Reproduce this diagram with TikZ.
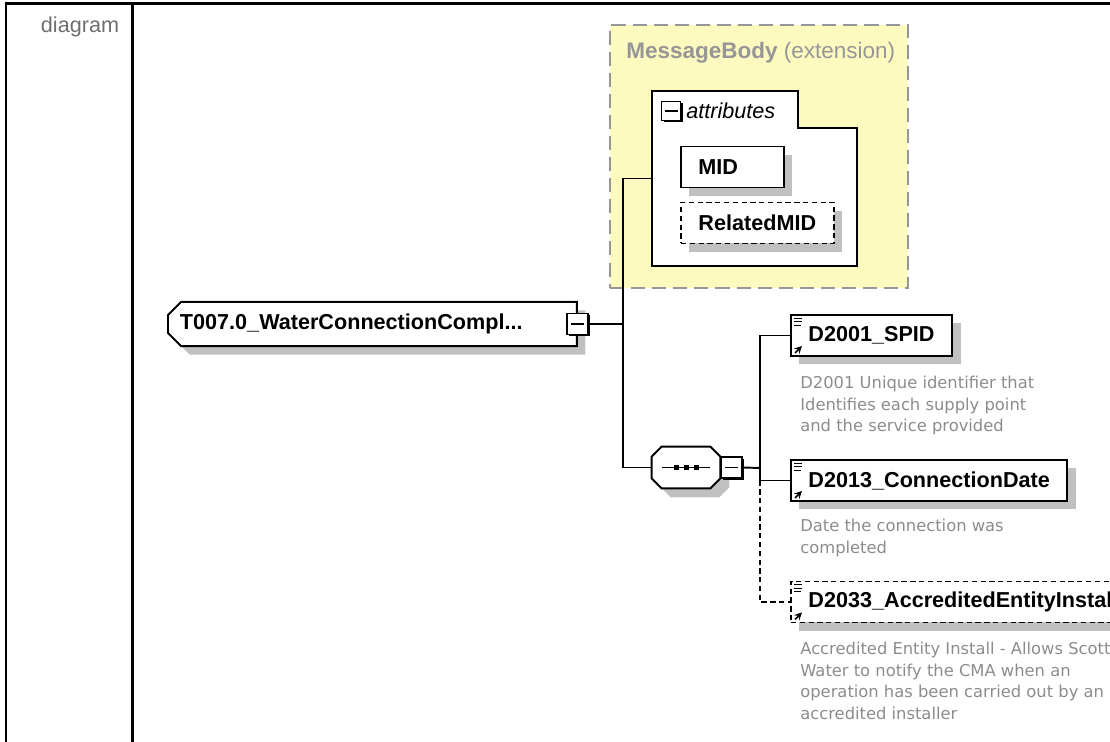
\documentclass[tikz,border=0pt]{standalone}
\usepackage{fontspec}
\setmainfont{Liberation Sans}
\newfontfamily\descfont{DejaVu Sans}
\usepackage{tikz}
\usetikzlibrary{shapes,shapes.misc,arrows,positioning,calc,shadows}
\definecolor{extfill}{RGB}{253,250,192}
\definecolor{extgray}{RGB}{150,150,150}
\definecolor{descgray}{RGB}{140,140,140}
\definecolor{shadegray}{RGB}{192,192,192}
\definecolor{lblgray}{RGB}{110,110,110}
\newcommand{\lblfont}{\fontsize{12.3}{14.6}\selectfont}
\newcommand{\descsize}{\fontsize{9.3}{12.2}\selectfont}
\tikzstyle{shade}   =[drop shadow={shadow xshift=0.17cm, shadow yshift=-0.17cm,
                        fill=shadegray, opacity=1}]
\tikzstyle{elem}    =[rectangle, draw=black, fill=white, line width=1.1pt,
                        minimum height=0.82cm, inner xsep=0.35cm, anchor=west,
                        font=\lblfont\bfseries, shade]
\tikzstyle{optional}=[dash pattern=on 3pt off 2pt]
\tikzstyle{rootelem}=[chamfered rectangle, chamfered rectangle corners={north west,south west},
                        chamfered rectangle xsep=0.14cm, draw=black, fill=white,
                        line width=1.1pt, minimum height=0.84cm, text width=7.7cm,
                        inner xsep=0.1cm, align=left, anchor=west,
                        font=\lblfont\bfseries, shade]
\tikzstyle{seqbox}  =[rectangle, inner sep=0pt, minimum width=1.36cm, minimum height=0.82cm]
\tikzstyle{toggle}  =[rectangle, draw=black, fill=white, line width=1.1pt,
                        minimum size=0.42cm, inner sep=0pt,
                        drop shadow={shadow xshift=0.04cm, shadow yshift=-0.04cm,
                          fill=black, opacity=1},
                        path picture={
                          \draw[black, line width=0.8pt] ([xshift=-0.13cm]path picture bounding box.center)
                            -- ([xshift=0.13cm]path picture bounding box.center);
                        }]
\tikzstyle{extgroup}=[rectangle, draw=extgray, fill=extfill, line width=1.1pt,
                        dash pattern=on 8pt off 4pt, minimum width=5.96cm,
                        minimum height=5.26cm, inner sep=0pt]
\tikzstyle{conn}    =[line width=1.1pt]
\tikzstyle{desc}    =[anchor=north west, inner sep=0pt, align=left,
                        font=\descfont\descsize, text=descgray]
% small marks at the left side of a referenced element
\newcommand{\elemicons}[1]{%
  \draw[line width=0.5pt] ($(#1.north west)+(4,4)$) -- ++(8,0)
                          ($(#1.north west)+(4,7.5)$) -- ++(8,0)
                          ($(#1.north west)+(4,11)$) -- ++(7,0);
  \draw[-stealth, line width=0.9pt] ($(#1.south west)+(5,-4)$) -- ++(7,-7);
}
% octagon round a compositor node, shifted by #2
\newcommand{\octpath}[2]{%
  ($(#1.north west)+(10+#2,#2)$) -- ($(#1.north east)+(-10+#2,#2)$)
  -- ($(#1.north east)+(#2,10+#2)$) -- ($(#1.south east)+(#2,-10+#2)$)
  -- ($(#1.south east)+(-10+#2,#2)$) -- ($(#1.south west)+(10+#2,#2)$)
  -- ($(#1.south west)+(#2,-10+#2)$) -- ($(#1.north west)+(#2,10+#2)$) -- cycle}

\begin{document}
\begin{tikzpicture}[x=0.02cm, y=-0.02cm, every node/.style={font=\lblfont}]
  \useasboundingbox (0,0) rectangle (1110,742);
  \clip (0,0) rectangle (1110,742);

  % ── table frame ────────────────────────────────────────────────────────────
  \draw[line width=1.3pt] (6,742) -- (6,3.5) -- (1112,3.5);
  \draw[line width=1.3pt] (132.5,3.5) -- (132.5,742);
  \node[text=lblgray] (lbl) at (80,27) {diagram};

  % ── extension group ────────────────────────────────────────────────────────
  \node[extgroup] (msgbody) at (759,156.5) {};
  \node[anchor=west, inner sep=0pt, text=extgray, font=\fontsize{12.8}{15}\selectfont]
    (msgtitle) at (626,53) {\textbf{MessageBody} (extension)};
  \node[inner sep=0pt, minimum width=4.1cm, minimum height=3.5cm] (attrs) at (754.5,178.5) {};
  \draw[line width=1.1pt, fill=white] (attrs.south west) |- ($(attrs.north west)+(146,0)$)
    |- ($(attrs.north east)+(0,37)$) -- (attrs.south east) -- cycle;
  \node[toggle, minimum size=0.38cm] (tglattr) at (671,111) {};
  \node[anchor=west, inner sep=0pt, font=\lblfont\itshape] (attrtitle) at (686,111) {attributes};
  \node[elem, text width=1.36cm, align=left] (mid) at (680,167) {MID};
  \node[elem, optional, text width=2.36cm, align=left] (relmid) at (680,223) {RelatedMID};

  % ── root element and sequence ──────────────────────────────────────────────
  \node[rootelem] (t007) at (167,324) {T007.0\_WaterConnectionCompl...};
  \node[toggle] (tglroot) at (t007.east) {};
  \node[seqbox] (seq) at (686,467.5) {};
  \fill[shadegray] \octpath{seq}{9};
  \draw[line width=1.1pt, fill=white] \octpath{seq}{0};
  \draw[line width=0.8pt] ($(seq.center)+(-24,0)$) -- ($(seq.center)+(24,0)$);
  \foreach \dx in {-10,0,10}
    \fill ($(seq.center)+(\dx,0)$) +(-2.5,-2.5) rectangle +(2.5,2.5);
  \node[toggle, anchor=west] (tglseq) at (seq.east) {};

  % ── child elements ─────────────────────────────────────────────────────────
  \node[elem] (d2001) at (790,335.5) {D2001\_SPID};
  \node[elem] (d2013) at (790,480.5) {D2013\_ConnectionDate};
  \node[elem, optional] (d2033) at (790,602) {D2033\_AccreditedEntityInstall};
  \elemicons{d2001}
  \elemicons{d2013}
  \elemicons{d2033}

  \node[desc] (desc2001) at (800,376)
    {D2001 Unique identifier that\\Identifies each supply point\\and the service provided};
  \node[desc] (desc2013) at (800,519)
    {Date the connection was\\completed};
  \node[desc] (desc2033) at (800,642)
    {Accredited Entity Install - Allows Scottish\\Water to notify the CMA when an\\operation has been carried out by an\\accredited installer};

  % ── connectors ─────────────────────────────────────────────────────────────
  \coordinate (jroot) at (623,324);
  \coordinate (jseq)  at (760,468);
  \draw[conn] (tglroot.east) -- (jroot);
  \draw[conn] (attrs.west) -| (jroot) |- (seq.west);
  \draw[conn] (tglseq.east) -- (jseq);
  \draw[conn] (d2001.west) -| (jseq) |- (d2013.west);
  \draw[conn, optional] (d2013.west -| jseq) |- (d2033.west);

\end{tikzpicture}
\end{document}
